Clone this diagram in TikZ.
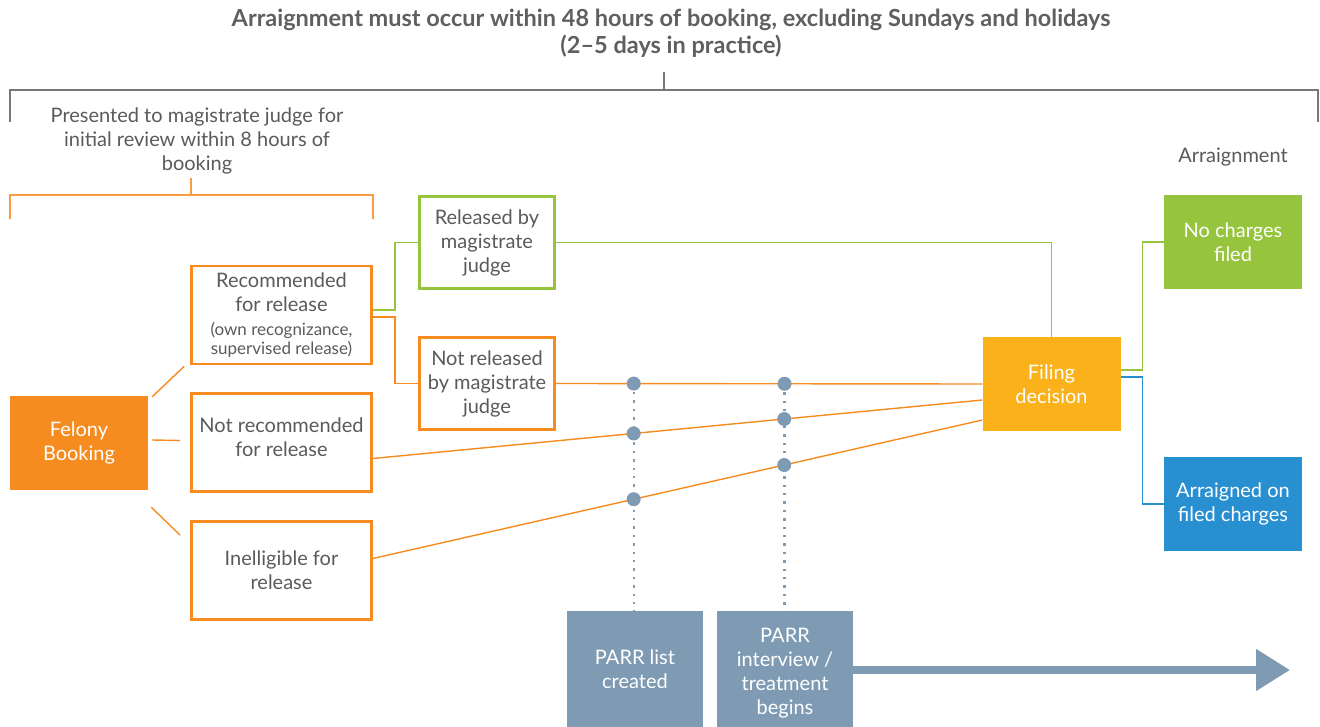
\documentclass[tikz,border=0pt]{standalone}
\usepackage{fontspec}
\setmainfont{Lato}
\usetikzlibrary{arrows.meta,calc}
\newcommand\smtxt{\fontsize{17}{19}\selectfont}

\begin{document}
\begin{tikzpicture}[x=1pt, y=-1pt, font=\fontsize{20}{24}\selectfont, >={Triangle[length=34pt, width=40pt]},
  obox/.style={draw=orangeC, line width=2.6pt, minimum width=180pt, minimum height=98pt, align=center, text=txtC, inner sep=2pt},
  gbox/.style={obox, draw=greenC, minimum width=135pt, minimum height=92pt},
  nbox/.style={obox, minimum width=135pt, minimum height=92pt},
  fbox/.style={fill=#1, minimum width=138pt, minimum height=94pt, align=center, text=white, inner sep=2pt},
  pbox/.style={fill=slateC, minimum width=136pt, minimum height=116pt, align=center, text=white, inner sep=2pt},
  head/.style={align=center, text=titleC, font=\fontsize{23.5}{27}\selectfont\bfseries},
  note/.style={align=center, text=txtC},
  brk/.style={draw=brkC, line width=1.1pt},
  obrk/.style={draw=orangeC!85, line width=1.1pt},
  oline/.style={draw=orangeC, line width=1.4pt},
  gline/.style={draw=greenC, line width=1.4pt},
  bline/.style={draw=blueC, line width=1.4pt},
  dotline/.style={draw=slateC, line width=2.4pt, dash pattern=on 2.4pt off 6pt},
  dot/.style={circle, fill=slateC, inner sep=0pt, minimum size=14pt}]
\definecolor{orangeC}{RGB}{246,139,31}\definecolor{greenC}{RGB}{150,196,60}\definecolor{yellowC}{RGB}{251,177,26}
\definecolor{blueC}{RGB}{40,143,208}\definecolor{slateC}{RGB}{127,155,180}
\definecolor{txtC}{RGB}{90,90,90}\definecolor{titleC}{RGB}{95,95,95}\definecolor{brkC}{RGB}{120,120,120}
\useasboundingbox (0,0) rectangle (1320,727);
% ---- header and brackets
\node[head] (title) at (671,33.5) {Arraignment must occur within 48 hours of booking, excluding Sundays and holidays\\(2--5 days in practice)};
\draw[brk] (10,122) -- (10,90) -- (1318,90) -- (1318,122);
\draw[brk] (664,72) -- (664,90);
\node[note] (present) at (197,141) {Presented to magistrate judge for\\initial review within 8 hours of\\booking};
\draw[obrk] (10,219) -- (10,195) -- (373,195) -- (373,219);
\draw[obrk] (191,178) -- (191,195);
\node[note] (arrlab) at (1233,157) {Arraignment};
% ---- booking and recommendation
\node[fbox=orangeC] (book) at (79,443) {Felony\\Booking};
\node[obox] (rec) at (281.5,315) {Recommended\\for release\\{\smtxt (own recognizance,}\\[-5pt]{\smtxt supervised release)}};
\node[obox] (notrec) at (281.5,442.5) {Not recommended\\for release\\[-14pt]};
\node[obox] (inel) at (281.5,570.5) {Inelligible for\\release};
\draw[oline] ($(book.north east)+(4,1)$) -- ($(rec.south west)+(-6,1)$);
\draw[oline] ($(book.east)+(4,-3)$) -- ($(notrec.west)+(-10,-2)$);
\draw[oline] ($(book.south east)+(3,17)$) -- ($(inel.north west)+(-10,15)$);
% ---- magistrate judge
\node[gbox] (rel) at (487,242.5) {Released by\\magistrate\\judge};
\node[nbox] (notrel) at (487,383.5) {Not released\\by magistrate\\judge};
\draw[gline] ($(rec.east)+(0,-5)$) -- ++(22,0) |- (rel.west);
\draw[oline] ($(rec.east)+(0,2)$) -- ++(22,0) |- (notrel.west);
% ---- filing decision
\node[fbox=yellowC] (filing) at (1051.5,384) {Filing\\decision};
\draw[gline] (rel.east) -| (filing.north);
\draw[oline] (notrel.east) -- coordinate[pos=0.1827] (a1) coordinate[pos=0.5363] (a2) (filing.west);
\draw[oline] ($(notrec.east)+(0,16)$) -- coordinate[pos=0.428] (b1) coordinate[pos=0.675] (b2) ($(filing.west)+(0,16)$);
\draw[oline] ($(inel.east)+(0,-12)$) -- coordinate[pos=0.428] (c1) coordinate[pos=0.675] (c2) ($(filing.west)+(0,36)$);
% ---- arraignment outcomes
\node[fbox=greenC] (nochg) at (1233,242) {No charges\\filed};
\node[fbox=blueC] (arr) at (1233,504) {Arraigned on\\filed charges};
\draw[gline] ($(filing.east)+(0,-14)$) -- ++(22,0) |- (nochg.west);
\draw[bline] ($(filing.east)+(0,-7)$) -- ++(22,0) |- (arr.west);
% ---- PARR timeline (boxes run off the bottom edge)
\node[pbox] (parr1) at (635,669) {PARR list\\created};
\node[pbox, minimum height=124pt] (parr2) at (785,673) {PARR\\interview /\\treatment\\begins};
\draw[dotline] (a1) -- (a1 |- parr1.north);
\draw[dotline] (a2) -- (a2 |- parr2.north);
\foreach \d in {a1,a2,b1,b2,c1,c2} \node[dot] at (\d) {};
\coordinate (tip) at (1290,670);
\draw[->, slateC, line width=8pt] (parr2.east |- tip) -- (tip);
\end{tikzpicture}
\end{document}
